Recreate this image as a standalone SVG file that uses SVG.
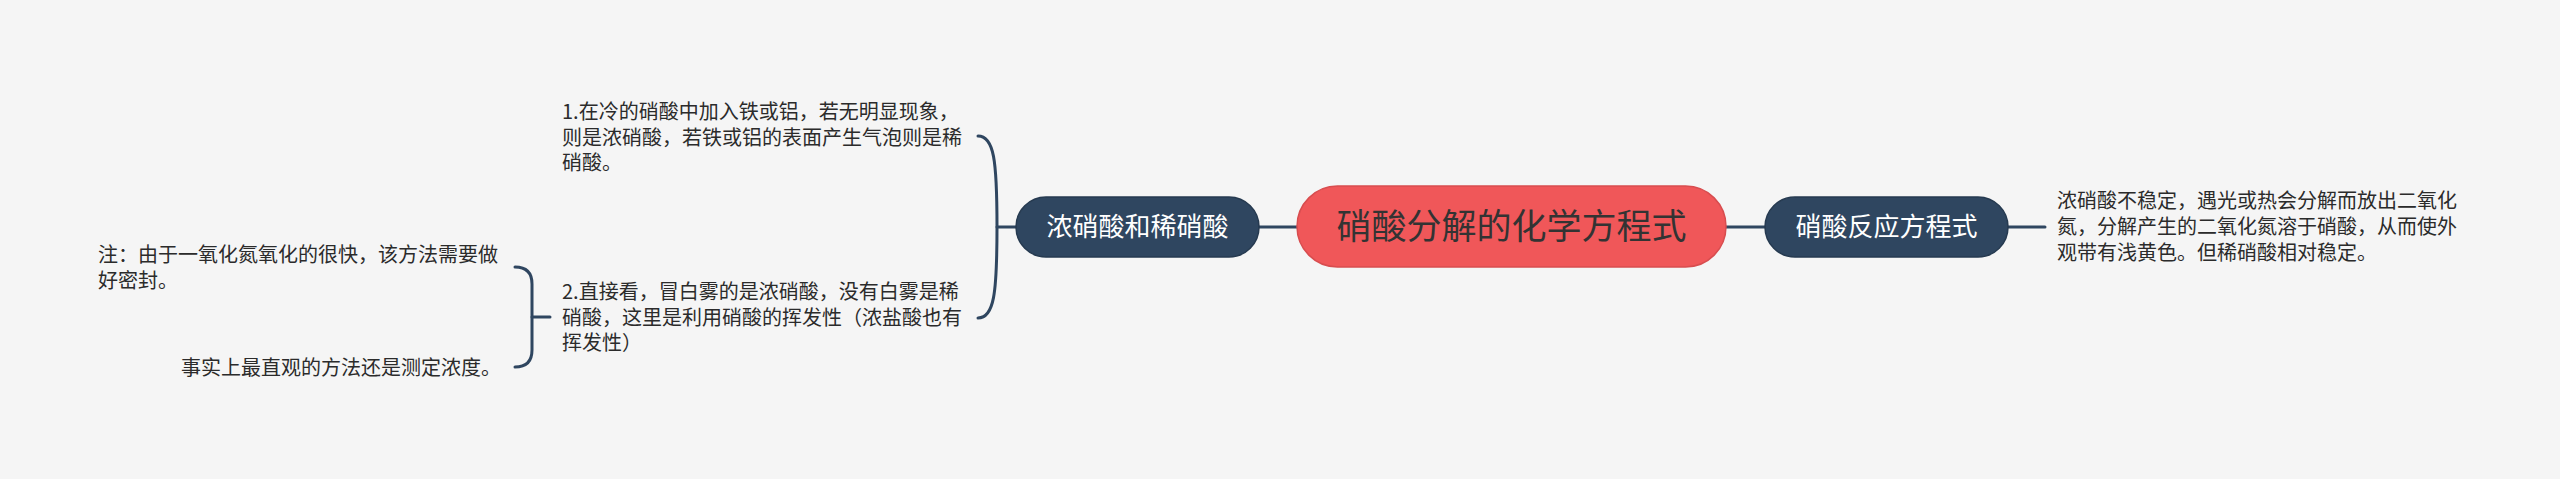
<svg xmlns="http://www.w3.org/2000/svg" width="2560" height="479" viewBox="0 0 2560 479">
<style>
text{font-family:"Noto Sans CJK SC","Noto Sans",sans-serif;}
.conn{fill:none;stroke:#2f4660;stroke-width:3;stroke-linecap:round;}
.sub rect{fill:#2f4660;stroke:#263a50;stroke-width:1.5;}
.sub text{fill:#ffffff;font-size:26px;text-anchor:middle;}
.leaf{fill:#2b2b2b;font-size:20px;}
</style>
<rect width="2560" height="479" fill="#f5f5f5"/>
<g id="connectors">
<path class="conn" d="M1259,227 L1297,227"/>
<path class="conn" d="M1726,227 L1765,227"/>
<path class="conn" d="M2008,227 L2045,227"/>
<path class="conn" d="M1016,227 L997,227"/>
<path class="conn" d="M978,136 C994,136 997,160 997,227 C997,294 994,318 978,318"/>
<path class="conn" d="M550,317 L532,317"/>
<path class="conn" d="M515,267 Q532,267 532,284 L532,350 Q532,367 515,367"/>
</g>
<g id="root">
<rect x="1297" y="186" width="429" height="81" rx="40.5" fill="#f05759" stroke="#d84d4f" stroke-width="1.5"/>
<text x="1511.5" y="239" font-size="35" fill="#333333" text-anchor="middle">硝酸分解的化学方程式</text>
</g>
<g id="node-left" class="sub">
<rect x="1016" y="197" width="243" height="60" rx="30"/>
<text x="1137.5" y="236">浓硝酸和稀硝酸</text>
</g>
<g id="node-right" class="sub">
<rect x="1765" y="197" width="243" height="60" rx="30"/>
<text x="1886.5" y="236">硝酸反应方程式</text>
</g>
<g id="leaf-right">
<text class="leaf" x="2057" y="208">浓硝酸不稳定，遇光或热会分解而放出二氧化</text>
<text class="leaf" x="2057" y="234">氮，分解产生的二氧化氮溶于硝酸，从而使外</text>
<text class="leaf" x="2057" y="260">观带有浅黄色。但稀硝酸相对稳定。</text>
</g>
<g id="leaf-1">
<text class="leaf" x="562" y="119">1.在冷的硝酸中加入铁或铝，若无明显现象，</text>
<text class="leaf" x="562" y="144.5">则是浓硝酸，若铁或铝的表面产生气泡则是稀</text>
<text class="leaf" x="562" y="170">硝酸。</text>
</g>
<g id="leaf-2">
<text class="leaf" x="562" y="299">2.直接看，冒白雾的是浓硝酸，没有白雾是稀</text>
<text class="leaf" x="562" y="324.5">硝酸，这里是利用硝酸的挥发性（浓盐酸也有</text>
<text class="leaf" x="562" y="350">挥发性）</text>
</g>
<g id="leaf-note">
<text class="leaf" x="98" y="262">注：由于一氧化氮氧化的很快，该方法需要做</text>
<text class="leaf" x="98" y="287.5">好密封。</text>
</g>
<g id="leaf-measure">
<text class="leaf" x="501" y="375" text-anchor="end">事实上最直观的方法还是测定浓度。</text>
</g>
</svg>
